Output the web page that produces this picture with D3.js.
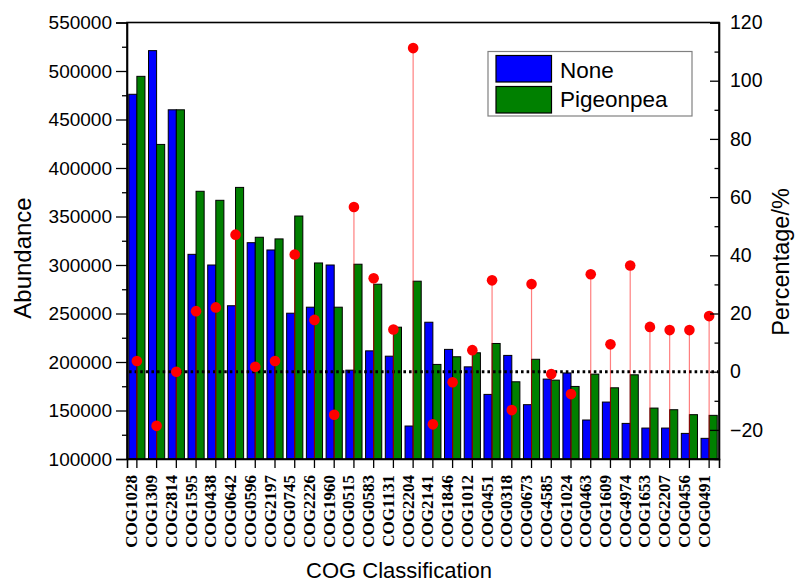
<!DOCTYPE html>
<html>
<head>
<meta charset="utf-8">
<script src="https://cdn.jsdelivr.net/npm/d3@7/dist/d3.min.js"></script>
<style>
  html, body { margin: 0; padding: 0; background: #fff; }
  svg { display: block; }
</style>
</head>
<body>
<svg id="chart" width="796" height="584"></svg>
<script>
// COG categories along the x axis
const categories = ["COG1028","COG1309","COG2814","COG1595","COG0438","COG0642","COG0596","COG2197","COG0745","COG2226",
  "COG1960","COG0515","COG0583","COG1131","COG2204","COG2141","COG1846","COG1012","COG0451","COG0318",
  "COG0673","COG4585","COG1024","COG0463","COG1609","COG4974","COG1653","COG2207","COG0456","COG0491"];

// Abundance per treatment
const noneValues = [476000, 521000, 460000, 311000, 300000, 258000, 323000, 315500, 250300, 256500,
  300000, 191600, 211500, 206000, 134000, 241000, 213000, 195000, 166600, 206800,
  156000, 182400, 188700, 140200, 158700, 136700, 131900, 131900, 126400, 121300];
const pigeonpeaValues = [494500, 424300, 460000, 376000, 366700, 380000, 328600, 326900, 350500, 302100,
  256500, 300800, 280200, 235900, 283300, 197500, 205400, 209500, 219100, 179600,
  202800, 181300, 174800, 187500, 173400, 186800, 152500, 150800, 145700, 145000];

// Percentage change (right axis)
const percentValues = [3.7, -18.6, 0, 20.8, 22.1, 47.1, 1.7, 3.7, 40.3, 17.8,
  -14.8, 56.6, 32.1, 14.5, 111.2, -18.1, -3.6, 7.4, 31.4, -13.2,
  30.1, -0.8, -7.7, 33.5, 9.4, 36.5, 15.4, 14.3, 14.3, 19.1];

const seriesNames = ["None", "Pigeonpea"];
const seriesColors = ["#0000ff", "#008000"];
const leftTicks = [100000, 150000, 200000, 250000, 300000, 350000, 400000, 450000, 500000, 550000];
const rightTicks = [-20, 0, 20, 40, 60, 80, 100, 120];

const svg = d3.select("#chart");
const plotLeft = 127, plotRight = 719, plotTop = 22.5, plotBottom = 459;
const sansFont = "'Liberation Sans', Arial, sans-serif";

const x = d3.scaleBand().domain(categories).range([plotLeft, plotRight]).paddingInner(0).paddingOuter(0);
const xSub = d3.scaleBand().domain(seriesNames).range([0, x.bandwidth()]).paddingInner(0).paddingOuter(0.22);
const yLeft = d3.scaleLinear().domain([100000, 550000]).range([plotBottom, plotTop]);
const yRight = d3.scaleLinear().domain([-30, 120]).range([plotBottom, plotTop]);

// Grouped bars
const rows = categories.map((c, i) => ({ cat: c, vals: [noneValues[i], pigeonpeaValues[i]] }));
const groups = svg.append("g").selectAll("g").data(rows).join("g")
  .attr("transform", d => `translate(${x(d.cat)},0)`);
groups.selectAll("rect")
  .data(d => d.vals.map((v, k) => ({ v, k })))
  .join("rect")
  .attr("x", d => xSub(seriesNames[d.k]))
  .attr("width", xSub.bandwidth())
  .attr("y", d => yLeft(d.v))
  .attr("height", d => yLeft(100000) - yLeft(d.v))
  .attr("fill", d => seriesColors[d.k])
  .attr("stroke", "#000")
  .attr("stroke-width", 1);

// Zero reference line on the percentage axis
svg.append("line")
  .attr("x1", plotLeft + 2).attr("x2", plotRight - 1)
  .attr("y1", yRight(0)).attr("y2", yRight(0))
  .attr("stroke", "#000").attr("stroke-width", 3)
  .attr("stroke-dasharray", "2.6 3");

// Drop lines and markers for the percentage series
const pts = categories.map((c, i) => ({ cat: c, p: percentValues[i] }));
svg.append("g").selectAll("line").data(pts).join("line")
  .attr("x1", d => x(d.cat) + x.bandwidth() / 2)
  .attr("x2", d => x(d.cat) + x.bandwidth() / 2)
  .attr("y1", d => yRight(d.p))
  .attr("y2", plotBottom)
  .attr("stroke", "#ff0000").attr("stroke-opacity", 0.5).attr("stroke-width", 1.2);
svg.append("g").selectAll("circle").data(pts).join("circle")
  .attr("cx", d => x(d.cat) + x.bandwidth() / 2)
  .attr("cy", d => yRight(d.p))
  .attr("r", 5.3)
  .attr("fill", "#ff0000");

// Frame
svg.append("rect")
  .attr("x", plotLeft).attr("y", plotTop)
  .attr("width", plotRight - plotLeft).attr("height", plotBottom - plotTop)
  .attr("fill", "none").attr("stroke", "#000").attr("stroke-width", 1.6);

// Left axis: outward ticks, minor ticks between majors
const leftAxis = svg.append("g").attr("transform", `translate(${plotLeft},0)`)
  .call(d3.axisLeft(yLeft).tickValues(leftTicks).tickSize(11).tickPadding(4).tickFormat(d3.format("d")));
svg.append("g").attr("transform", `translate(${plotLeft},0)`)
  .call(d3.axisLeft(yLeft).tickValues(d3.range(125000, 550000, 50000)).tickSize(5).tickFormat(""))
  .call(g => g.select(".domain").remove());

// Right axis: inward ticks
const rightAxis = svg.append("g").attr("transform", `translate(${plotRight},0)`)
  .call(d3.axisRight(yRight).tickValues(rightTicks).tickSize(-9).tickPadding(20).tickFormat(d3.format("d")));
svg.append("g").attr("transform", `translate(${plotRight},0)`)
  .call(d3.axisRight(yRight).tickValues(d3.range(-30, 120, 20)).tickSize(-4.5).tickFormat(""))
  .call(g => g.select(".domain").remove());

// Bottom axis: category ticks and rotated labels
const bottomAxis = svg.append("g").attr("transform", `translate(0,${plotBottom})`)
  .call(d3.axisBottom(x).tickSize(9).tickFormat(""));
bottomAxis.selectAll(".tick").append("text")
  .attr("transform", "translate(0.5,16) rotate(-90)")
  .attr("text-anchor", "end")
  .attr("fill", "#000")
  .style("font-family", "'Liberation Serif', 'Times New Roman', serif")
  .style("font-weight", "bold")
  .style("font-size", "17px")
  .text(d => d);

[leftAxis, rightAxis, bottomAxis].forEach(g => {
  g.select(".domain").attr("stroke-width", 1.6);
});
svg.selectAll("g .tick line").attr("stroke-width", 1.3);
leftAxis.selectAll(".tick text").style("font-family", sansFont).style("font-size", "19px");
rightAxis.selectAll(".tick text").style("font-family", sansFont).style("font-size", "19.5px")
  .attr("x", 11).attr("text-anchor", "start");

// Axis titles
svg.append("text")
  .attr("transform", "translate(31,258) rotate(-90)")
  .attr("text-anchor", "middle")
  .style("font-family", sansFont).style("font-size", "24px")
  .text("Abundance");
svg.append("text")
  .attr("transform", "translate(789,262) rotate(-90)")
  .attr("text-anchor", "middle")
  .style("font-family", sansFont).style("font-size", "23.5px")
  .text("Percentage/%");
svg.append("text")
  .attr("x", 399).attr("y", 578)
  .attr("text-anchor", "middle")
  .style("font-family", sansFont).style("font-size", "22px")
  .text("COG Classification");

// Legend
const legend = svg.append("g");
legend.append("rect")
  .attr("x", 488).attr("y", 51.5).attr("width", 204).attr("height", 64.5)
  .attr("fill", "#fff").attr("stroke", "#808080").attr("stroke-width", 1.2);
seriesNames.forEach((name, k) => {
  legend.append("rect")
    .attr("x", 496).attr("y", 55.5 + k * 31).attr("width", 55.5).attr("height", 26.5)
    .attr("fill", seriesColors[k]).attr("stroke", "#000").attr("stroke-width", 1.2);
  legend.append("text")
    .attr("x", 560).attr("y", 77.5 + k * 29)
    .style("font-family", sansFont).style("font-size", "22.5px")
    .text(name);
});
</script>
</body>
</html>
